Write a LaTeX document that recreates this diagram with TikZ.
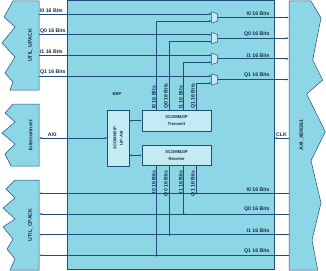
\documentclass[tikz,border=0pt]{standalone}
\usepackage{fontspec}
\setmainfont{Liberation Sans}
\usetikzlibrary{positioning,arrows.meta,calc}
\definecolor{bbpcyan}{RGB}{141,214,230}
\definecolor{boxlight}{RGB}{196,234,243}
\definecolor{wire}{RGB}{31,78,121}
\definecolor{ink}{RGB}{25,45,70}
\tikzset{
  sig/.style={draw=wire,line width=0.7pt},
  lbl/.style={font=\fontsize{5.2}{6}\selectfont\bfseries,text=ink,inner sep=0.5pt},
  small/.style={font=\fontsize{4.2}{6.6}\selectfont\bfseries,text=ink},
  outerblk/.style={fill=bbpcyan,draw=wire,line width=0.5pt},
  innerblk/.style={fill=boxlight,draw=wire,line width=0.5pt,small,align=center,inner sep=0pt},
  ghost/.style={lbl,inner sep=0pt},
  muxbox/.style={fill=boxlight,draw=wire,line width=0.5pt},
}

\begin{document}
\begin{tikzpicture}[x=1pt,y=-1pt,>={Latex[length=2.4pt,width=2pt]}]
\useasboundingbox (0,0) rectangle (326,270);
% ---- BBP ----
\node[outerblk,minimum width=207pt,minimum height=269pt,inner sep=0pt] (bbp) at (170.5,135) {};
\node[small] (bbplbl) at (117,94) {BBP};
% ---- zig-zag blocks (left and right) ----
\draw[outerblk] (39,1) -- (13,1) -- (4,17) -- (15,27) -- (2,43) -- (15,57) -- (5,73) -- (13,82) -- (10,90) -- (39,90) -- cycle;
\node[ghost,minimum width=17pt,minimum height=89pt] (upack) at (30.5,45.5) {\rotatebox{90}{UTIL\_UPACK}};
\draw[outerblk] (39,104) -- (13,104) -- (5,113) -- (15,122) -- (2,133) -- (15,144) -- (5,154) -- (11,166) -- (39,166) -- cycle;
\node[ghost,minimum width=17pt,minimum height=62pt] (ic) at (30.5,135) {\rotatebox{90}{Interconnect}};
\draw[outerblk] (39,180) -- (15,180) -- (6,189) -- (15,198) -- (3,208) -- (15,219) -- (3,227) -- (13,239) -- (7,249) -- (15,259) -- (10,270) -- (39,270) -- cycle;
\node[ghost,minimum width=17pt,minimum height=90pt] (cpack) at (30.5,225) {\rotatebox{90}{UTIL\_CPACK}};
\draw[outerblk] (289,1) -- (311,1) -- (321,18) -- (312.7,60) -- (322.7,80) -- (306.7,94) -- (325.3,131.7) -- (311,160.7) -- (321,203) -- (312,240) -- (317.7,270) -- (289,270) -- cycle;
\node[ghost,minimum width=25pt,minimum height=269pt] (axi) at (301.5,135) {\rotatebox{90}{AXI\_AD9361}};
% ---- inner blocks ----
\node[innerblk,minimum width=69pt,minimum height=20.5pt] (tx) at (176.5,120.5) {XCOMM2IP\\Transmit};
\node[innerblk,minimum width=69pt,minimum height=20.7pt] (rx) at (176.5,155.3) {XCOMM2IP\\Receive};
\node[innerblk,minimum width=21.3pt,minimum height=55.5pt] (upaxi) at (118.3,138)
  {\rotatebox{90}{\begin{tabular}{@{}c@{}}XCOMM2IP\\UP-AXI\end{tabular}}};
\draw[sig,<->] (upaxi.east |- tx.west) -- (tx.west);
\draw[sig,<->] (upaxi.east |- rx.west) -- (rx.west);
\draw[sig,<->] (ic.east |- upaxi.west) -- (upaxi.west) node[lbl,pos=0.19,above=1pt] {AXI};
\draw[sig,->] (axi.west |- upaxi.west) -- (bbp.east |- upaxi.west) node[lbl,midway,above=1pt] {CLK};
% ---- muxes ----
\foreach \i in {1,...,4} {
  \node[ghost,minimum width=5.6pt,minimum height=11pt] (mux\i) at (214.5,{17.5+20.67*(\i-1)}) {};
  \draw[muxbox] (mux\i.north west) -- ([yshift=-2pt]mux\i.north east) -- ([yshift=2pt]mux\i.south east) -- (mux\i.south west) -- cycle;
  \coordinate (mux\i-a) at ([yshift=3.5pt]mux\i.west);
  \coordinate (mux\i-b) at ([yshift=-3.5pt]mux\i.west);
}
% ---- transmit path ----
\foreach \i/\s/\dx in {1/I0/15,2/Q0/28,3/I1/42,4/Q1/55} {
  \draw[sig,->] (upack.east |- mux\i-a) -- (mux\i-a) node[lbl,pos=0,anchor=south west,yshift=0.5pt] {\s\ 16 Bits};
  \draw[sig,->] ([xshift=\dx pt]tx.north west) |- (mux\i-b);
  \node[lbl,rotate=90,anchor=south west] (txl\i) at ([xshift={(\dx-0.4)*1pt},yshift=0.5pt]tx.north west) {\s\ 16 Bits};
  \draw[sig,->] (mux\i.east) -- (axi.west |- mux\i.east);
  \node[lbl,anchor=south east] (outl\i) at ([xshift=-4pt,yshift=1pt]bbp.east |- mux\i.east) {\s\ 16 Bits};
}
% ---- receive path ----
\foreach \j/\s/\y in {1/I0/193.3,2/Q0/214,3/I1/234.7,4/Q1/255.3} {
  \coordinate (bl\j) at (289,\y);
  \draw[sig,->] (bl\j) -- (cpack.east |- bl\j);
  \node[lbl,anchor=south east] (inl\j) at ([xshift=-4pt,yshift=1.5pt]bbp.east |- bl\j) {\s\ 16 Bits};
}
\foreach \i/\s/\dx/\j in {1/I0/15/4,2/Q0/28/3,3/I1/42/2,4/Q1/55/1} {
  \coordinate (rxp\i) at ([xshift=\dx pt]rx.south west);
  \draw[sig] (rxp\i) -- (rxp\i |- bl\j);
  \fill[wire] (rxp\i |- bl\j) circle (1.2pt);
  \node[lbl,rotate=90,anchor=south east] (rxl\i) at ([xshift=-0.4pt,yshift=-4pt]rxp\i) {\s\ 16 Bits};
}
\end{tikzpicture}
\end{document}
